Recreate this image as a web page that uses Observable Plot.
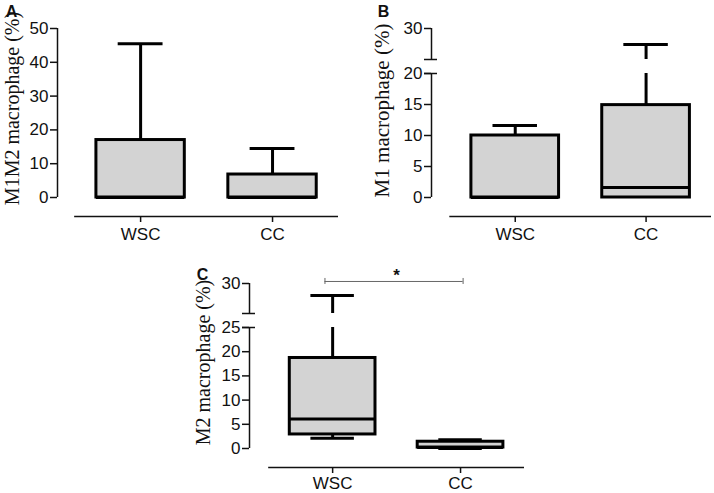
<!DOCTYPE html>
<html><head><meta charset="utf-8">
<script src="https://cdn.jsdelivr.net/npm/d3@7"></script>
<script src="https://cdn.jsdelivr.net/npm/@observablehq/plot@0.6"></script>
<style>
body{margin:0;background:#fff;}
#wrap{position:relative;width:714px;height:493px;overflow:hidden;}
#wrap svg{position:absolute;left:0;top:0;}
</style></head><body><div id="wrap"></div>
<script>
// ---- data ----
const groups = ["WSC", "CC"];

// Panel A: M1M2 macrophage (%)
const aLabel = "M1M2 macrophage (%)";
const aMin = [0, 0];
const aQ1 = [0, 0];
const aMedian = [0, 0];
const aQ3 = [17, 6.8];
const aMax = [45.5, 14.5];
const aTicks = [0, 10, 20, 30, 40, 50];

// Panel B: M1 macrophage (%)
const bLabel = "M1 macrophage (%)";
const bMin = [0, 0];
const bQ1 = [0, 0];
const bMedian = [0, 1.6];
const bQ3 = [10, 14.9];
const bMax = [11.6, 27.4];
const bTicks = [0, 5, 10, 15, 20, 30];

// Panel C: M2 macrophage (%)
const cLabel = "M2 macrophage (%)";
const cMin = [2.1, 0];
const cQ1 = [2.9, 0.2];
const cMedian = [6.1, 0.2];
const cQ3 = [18.7, 1.4];
const cMax = [28.4, 1.8];
const cTicks = [0, 5, 10, 15, 20, 25, 30];
const sigLabel = "*";
const sigY = 30.27;

// ---- drawing ----
const W = 714, H = 493;
const FONT = "Liberation Sans, Arial, Helvetica, sans-serif";
const SERIF = "Liberation Serif, Times New Roman, serif";
const TICK_FS = 17;

function panel(cfg) {
  const rows = groups.map((g, i) => ({
    group: g, x: i + 1,
    min: cfg.min[i], q1: cfg.q1[i], median: cfg.median[i], q3: cfg.q3[i], max: cfg.max[i]
  }));
  const unit = (cfg.xEndPx - cfg.axisPx) / (2.5 - cfg.axisX);
  const boxHalf = 0.335, capHalf = 0.17;
  const yTop = cfg.yDomain[cfg.yDomain.length - 1];
  const yBase = cfg.yDomain[0];
  const brLo = cfg.breakLo, brHi = cfg.breakHi;
  const marks = [];
  // axis lines
  marks.push(Plot.ruleY([yBase], {x1: 0.5, x2: 2.5, stroke: "#111", strokeWidth: 1.5}));
  if (brLo != null) {
    marks.push(Plot.ruleX([cfg.axisX], {y1: 0, y2: brLo, stroke: "#111", strokeWidth: 1.5}));
    marks.push(Plot.ruleX([cfg.axisX], {y1: brHi, y2: yTop, stroke: "#111", strokeWidth: 1.5}));
    marks.push(Plot.ruleY([brLo, brHi], {x1: cfg.axisX - 7 / unit, x2: cfg.axisX + 6 / unit, stroke: "#111", strokeWidth: 1.5}));
  } else {
    marks.push(Plot.ruleX([cfg.axisX], {y1: 0, y2: yTop, stroke: "#111", strokeWidth: 1.5}));
  }
  marks.push(Plot.axisY({ticks: cfg.ticks, tickSize: 7, tickPadding: 2, label: null,
    stroke: "#111", strokeWidth: 1.5, fontSize: TICK_FS}));
  marks.push(Plot.axisX({ticks: [1, 2], tickFormat: i => groups[i - 1], tickSize: 6, tickPadding: cfg.xPad,
    label: null, stroke: "#111", strokeWidth: 1.5, fontSize: TICK_FS}));
  // whiskers
  const lim = d => brLo != null ? Math.min(d.max, brLo) : d.max;
  marks.push(Plot.ruleX(rows.filter(d => d.max > d.q3), {x: "x", y1: "q3", y2: lim, stroke: "black", strokeWidth: 3}));
  if (brHi != null) {
    marks.push(Plot.ruleX(rows.filter(d => d.max > brHi), {x: "x", y1: brHi, y2: "max", stroke: "black", strokeWidth: 3}));
  }
  marks.push(Plot.ruleX(rows.filter(d => d.min < d.q1), {x: "x", y1: "min", y2: "q1", stroke: "black", strokeWidth: 3}));
  marks.push(Plot.ruleY(rows.filter(d => d.max > d.q3), {y: "max", x1: d => d.x - capHalf, x2: d => d.x + capHalf, stroke: "black", strokeWidth: 3}));
  marks.push(Plot.ruleY(rows.filter(d => d.min < d.q1), {y: "min", x1: d => d.x - capHalf, x2: d => d.x + capHalf, stroke: "black", strokeWidth: 3}));
  // boxes
  marks.push(Plot.rect(rows, {x1: d => d.x - boxHalf, x2: d => d.x + boxHalf, y1: "q1", y2: "q3",
    fill: "#d3d3d3", stroke: "black", strokeWidth: 3, strokeLinejoin: "miter"}));
  marks.push(Plot.ruleY(rows, {y: "median", x1: d => d.x - boxHalf, x2: d => d.x + boxHalf, stroke: "black", strokeWidth: 3}));
  // labels
  marks.push(Plot.text([cfg.label], {frameAnchor: "top-left", dx: cfg.labelDx, dy: cfg.labelDy, rotate: -90,
    fontFamily: SERIF, fontSize: cfg.labelSize, textAnchor: "middle", lineAnchor: "middle", fill: "#111"}));
  marks.push(Plot.text([cfg.letter], {frameAnchor: "top-left", dx: cfg.letterDx, dy: cfg.letterDy,
    fontWeight: "bold", fontSize: 16, textAnchor: "middle", lineAnchor: "middle", fill: "#111"}));
  if (cfg.extra) marks.push(...cfg.extra);
  const svg = Plot.plot({
    width: W, height: H,
    marginLeft: cfg.axisPx, marginRight: W - cfg.xEndPx,
    marginTop: cfg.yRange[cfg.yRange.length - 1], marginBottom: H - cfg.yRange[0],
    x: {type: "linear", domain: [cfg.axisX, 2.5]},
    y: {type: "linear", domain: cfg.yDomain, range: cfg.yRange},
    style: {fontFamily: FONT, fontSize: TICK_FS + "px", color: "#111", background: "transparent", overflow: "visible"},
    marks
  });
  // make sure tick labels get the intended size and font
  svg.querySelectorAll('g[aria-label$="tick label"]').forEach(g => {
    g.style.fontSize = TICK_FS + "px";
    g.style.fontFamily = FONT;
    g.querySelectorAll("text").forEach(t => { t.style.fontSize = TICK_FS + "px"; });
  });
  return svg;
}

const wrap = document.getElementById("wrap");

wrap.append(panel({
  letter: "A", label: aLabel, min: aMin, q1: aQ1, median: aMedian, q3: aQ3, max: aMax, ticks: aTicks,
  axisPx: 57, axisX: 0.37, xEndPx: 338, xPad: 5,
  yDomain: [-1, 0, 50], yRange: [216, 197, 28],
  labelDx: -45, labelDy: 80, labelSize: 20, letterDx: -46, letterDy: -17
}));

wrap.append(panel({
  letter: "B", label: bLabel, min: bMin, q1: bQ1, median: bMedian, q3: bQ3, max: bMax, ticks: bTicks,
  axisPx: 431, axisX: 0.36, xEndPx: 711, xPad: 5,
  yDomain: [-1, 0, 20, 25, 30], yRange: [216, 197, 73, 59, 28], breakLo: 20, breakHi: 25,
  labelDx: -49, labelDy: 82, labelSize: 21, letterDx: -48, letterDy: -17
}));

wrap.append(panel({
  letter: "C", label: cLabel, min: cMin, q1: cQ1, median: cMedian, q3: cQ3, max: cMax, ticks: cTicks,
  axisPx: 249, axisX: 0.35, xEndPx: 524, xPad: 3,
  yDomain: [-1, 0, 25, 26, 30], yRange: [467, 448, 327, 313, 283], breakLo: 25, breakHi: 26,
  labelDx: -46, labelDy: 79, labelSize: 20, letterDx: -47, letterDy: -9,
  extra: [
    Plot.ruleY([sigY], {x1: 0.94, x2: 2.02, stroke: "#666", strokeWidth: 1}),
    Plot.ruleX([0.94, 2.02], {y1: sigY - 0.4, y2: sigY + 0.4, stroke: "#666", strokeWidth: 1}),
    Plot.text([sigLabel], {x: 1.5, y: sigY, dy: -6, fontSize: 17, fontWeight: "bold", fill: "#111"})
  ]
}));
</script></body></html>
